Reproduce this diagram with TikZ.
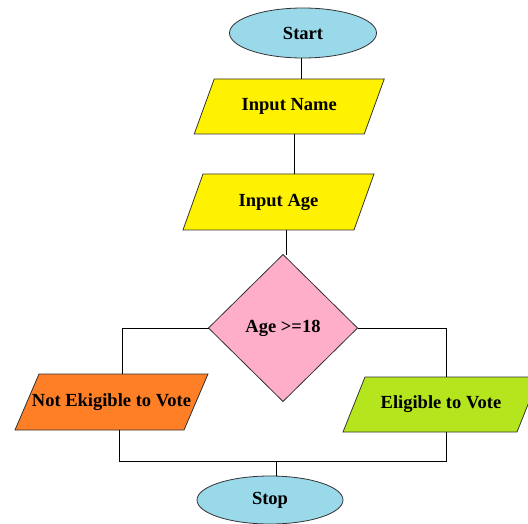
\documentclass[tikz,border=0pt]{standalone}
\usepackage{fontspec}
\setmainfont{Liberation Serif}
\usetikzlibrary{shapes.geometric,backgrounds}
\definecolor{cturq}{HTML}{99D9EA}
\definecolor{cyell}{HTML}{FFF200}
\definecolor{cpink}{HTML}{FFAEC9}
\definecolor{corng}{HTML}{FF7F27}
\definecolor{clime}{HTML}{B5E61D}
\definecolor{cedge}{HTML}{333333}
% parallelogram behind a text node: #1 node name, #2 half slant, #3 fill colour
\newcommand\paraback[3]{%
  \begin{scope}[on background layer]
    \filldraw[draw=cedge, line width=0.8pt, fill=#3]
      ([xshift=#2]#1.north west) -- ([xshift=#2]#1.north east) --
      ([xshift=-#2]#1.south east) -- ([xshift=-#2]#1.south west) -- cycle;
  \end{scope}}
\begin{document}
\begin{tikzpicture}[x=1pt,y=-1pt,
  base/.style={draw=cedge, line width=0.8pt, inner sep=0pt, outer sep=0pt,
    font=\fontsize{18.5}{20}\selectfont\bfseries},
  term/.style={base, ellipse, fill=cturq},
  io/.style={base, draw=none, rectangle},
  decision/.style={base, diamond, fill=cpink},
  conn/.style={draw=black, line width=0.8pt}
]
\useasboundingbox (0,0) rectangle (528,524);

\node[term, minimum width=147pt, minimum height=50pt] (start) at (303,33) {Start};
\node[io, minimum width=170pt, minimum height=55pt] (name) at (289.25,106.5) {Input Name};
\paraback{name}{10pt}{cyell}
\node[io, minimum width=171pt, minimum height=56pt] (age) at (278.5,202) {Input Age};
\paraback{age}{10pt}{cyell}
\node[decision, minimum width=149pt, minimum height=147pt] (dec) at (283,328) {Age >=18};
\node[io, minimum width=169pt, minimum height=56pt] (notel) at (111.5,402) {Not Ekigible to Vote};
\paraback{notel}{12pt}{corng}
\node[io, minimum width=174pt, minimum height=55pt] (elig) at (441,404.5) {Eligible to Vote};
\paraback{elig}{11pt}{clime}
\node[term, minimum width=146pt, minimum height=48pt] (stop) at (270,500) {Stop};

\coordinate (jl) at (119.5,461);
\coordinate (jr) at (446,461);

\draw[conn] ([xshift=-2pt]start.south) -- ([xshift=-2pt]start.south |- name.north);
\draw[conn] ([xshift=5pt]name.south) -- ([xshift=5pt]name.south |- age.north);
\draw[conn] ([xshift=3pt]dec.north) -- ([xshift=3pt]dec.north |- age.south);
\draw[conn] (dec.west) -| ([xshift=10.5pt]notel.north);
\draw[conn] (dec.east) -| ([xshift=5pt]elig.north);
\draw[conn] (jl |- notel.south) -- (jl) -- (jr) -- (jr |- elig.south);
\draw[conn] ([xshift=6pt]stop.north) -- ([xshift=6pt]stop.north |- jl);
\end{tikzpicture}
\end{document}
